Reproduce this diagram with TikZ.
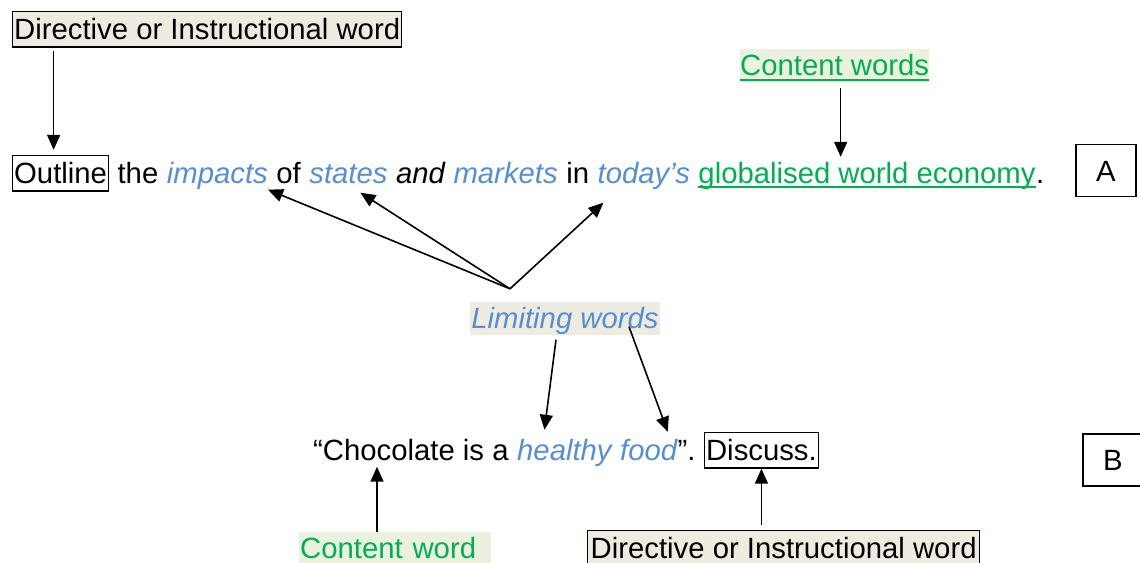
\documentclass[tikz,border=0pt]{standalone}
\usepackage{fontspec}
\setmainfont{Liberation Sans}
\usepackage{xcolor}
\usepackage{tikz}
\usetikzlibrary{arrows.meta}
\usetikzlibrary{positioning}

\definecolor{limblue}{RGB}{85,142,213}
\definecolor{congreen}{RGB}{0,176,80}
\definecolor{hlbeige}{RGB}{238,236,225}
\definecolor{hlgreen}{RGB}{235,241,222}
\newcommand\wordfont{\fontsize{29.3pt}{34pt}\selectfont}

\begin{document}
\begin{tikzpicture}
    [x=1pt, y=-1pt,
      % Grundstil fuer alle Woerter
      every node/.style={font=\wordfont, inner sep=0pt, text height=26pt, text depth=6.5pt},
      % Wort hinter einem anderen Wort
      follows/.style={anchor=base west, at={([xshift=8.15pt]#1.base east)}},
      % Stil fuer eingerahmte Woerter
      wordbox/.style={draw, line width=1.4pt, inner xsep=1.5pt, inner ysep=1.5pt},
      % Stil fuer einschraenkende Woerter
      limword/.style={text=limblue, font=\wordfont\itshape},
      % Stil fuer Inhaltswoerter
      conword/.style={text=congreen},
      % Kasten A und B
      letterbox/.style={draw, line width=1.4pt, minimum width=60pt, minimum height=52pt, text height=21pt, text depth=0pt},
      % Pfeile
      arr/.style={-{Triangle[length=15pt,width=13pt]}, line width=1.6pt}]
    \useasboundingbox (0,0) rectangle (1140,562);

    % Satz A
    \node[wordbox, anchor=base west] (outline) at (12,183) {Outline};
    \node[follows=outline] (wthe) {the};
    \node[follows=wthe, limword] (impacts) {impacts};
    \node[follows=impacts] (wof) {of};
    \node[follows=wof, limword] (states) {states};
    \node[follows=states, font=\wordfont\itshape] (wand) {and};
    \node[follows=wand, limword] (markets) {markets};
    \node[follows=markets] (win) {in};
    \node[follows=win, limword] (todays) {today’s};
    \node[follows=todays, conword] (glob) {globalised world economy};
    \node[anchor=base west] (dotA) at (glob.base east) {.};
    \draw[congreen, line width=2pt] ([yshift=-4pt]glob.base west) -- ([yshift=-4pt]glob.base east);
    \node[letterbox] (boxA) at (1106,170.5) {A};

    % Beschriftungen oben
    \node[wordbox, fill=hlbeige, anchor=base west] (dirA) at (12,39) {Directive or Instructional word};
    \node[conword, fill=hlgreen, anchor=base west] (cw) at (740,75) {Content words};
    \draw[congreen, line width=2pt] ([yshift=-5pt]cw.base west) -- ([yshift=-5pt]cw.base east);

    % Mitte
    \node[limword, fill=hlbeige, inner xsep=1.5pt, anchor=base] (limit) at (565,328) {Limiting words};
    \coordinate (fork) at ([xshift=-55pt, yshift=13pt]limit.north);

    % Satz B
    \node[anchor=base west] (choc) at (313,460) {“Chocolate is a};
    \node[follows=choc, limword] (healthy) {healthy};
    \node[follows=healthy, limword] (food) {food};
    \node[anchor=base west] (quote) at (food.base east) {”.};
    \node[follows=quote, wordbox] (disc) {Discuss.};
    \node[letterbox] (boxB) at (1113,460) {B};

    % Beschriftungen unten
    \node[conword, fill=hlgreen, anchor=base west, text width=190pt, align=left, inner xsep=1pt] (cwb) at (299,558) {Content word};
    \node[wordbox, fill=hlbeige, anchor=base west, inner xsep=3pt] (dirB) at (587,558) {Directive or Instructional word};

    % Kanten
    \draw[arr, shorten <=3pt, shorten >=5pt] ([xshift=-7pt]outline.north |- dirA.south) -- ([xshift=-7pt]outline.north);
    \draw[arr, shorten <=6.5pt] ([xshift=6pt]cw.south) -- ([xshift=6pt]cw.south |- glob.north);
    \draw[arr] (fork) -- (impacts.south east);
    \draw[arr] (fork) -- ([xshift=12pt, yshift=-3pt]states.south);
    \draw[arr] (fork) -- ([xshift=6pt, yshift=-13pt]todays.south west);
    \draw[arr] ([xshift=-9pt, yshift=-5pt]limit.south) -- ([xshift=-20pt, yshift=4pt]healthy.north);
    \draw[arr] ([xshift=64pt, yshift=8pt]limit.south) -- ([xshift=19pt, yshift=2pt]food.north);
    \draw[arr] ([xshift=78pt]cwb.north west) -- ([xshift=64pt]choc.south west);
    \draw[arr, shorten <=5pt] (dirB.north -| disc.south) -- (disc.south);
\end{tikzpicture}
\end{document}
